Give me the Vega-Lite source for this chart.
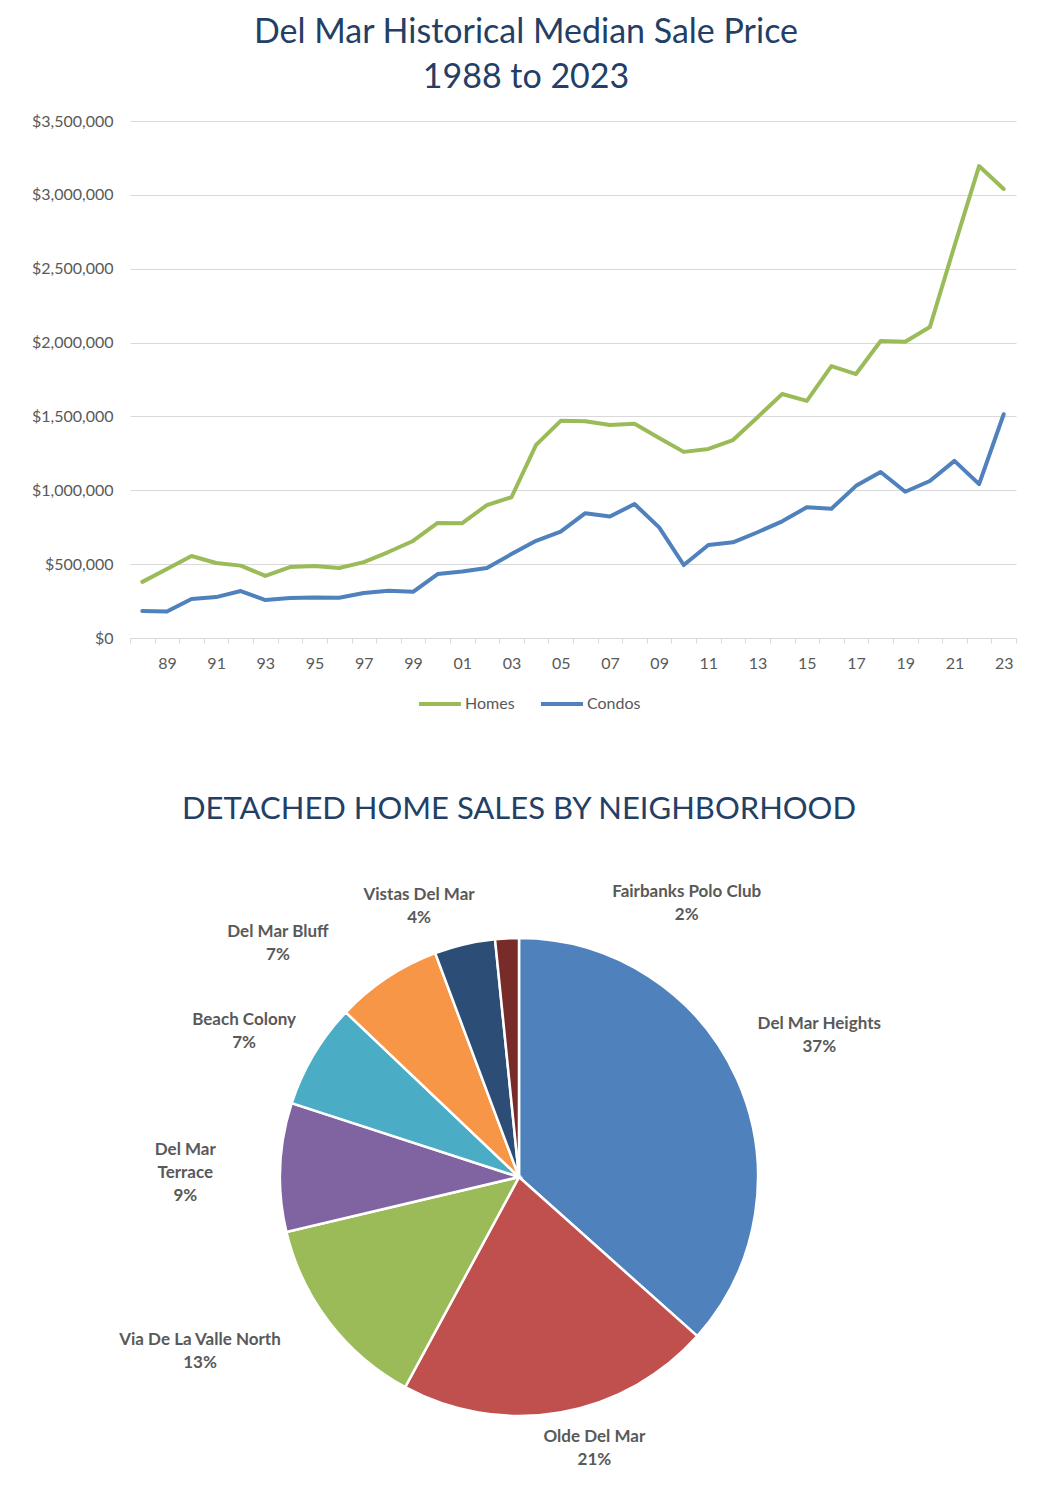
{
  "$schema": "https://vega.github.io/schema/vega-lite/v6.json",
  "background": "white",
  "padding": {"left": 31, "top": 16, "right": 10, "bottom": 5},
  "bounds": "flush",
  "spacing": 241,
  "resolve": {"scale": {"color": "independent"}, "legend": {"color": "independent"}},
  "config": {
    "font": "Lato",
    "view": {"stroke": null},
    "axis": {"labelFont": "Lato", "labelFontSize": 16, "labelColor": "#595959", "title": null},
    "legend": {"labelFont": "Lato"},
    "title": {"font": "Lato", "fontWeight": "normal", "color": "#243F66"},
    "text": {"font": "Lato", "fontWeight": "bold", "fontSize": 17, "lineBreak": "\n", "lineHeight": 23, "fill": "#595959"}
  },
  "vconcat": [
    {
      "width": 886,
      "height": 517,
      "title": {
        "text": ["Del Mar Historical Median Sale Price", "1988 to 2023"],
        "fontSize": 34,
        "lineHeight": 45,
        "anchor": "middle",
        "frame": "bounds",
        "dx": 2,
        "offset": 18
      },
      "data": {
        "values": [
          {"year": 1988, "type": "Homes", "price": 380000},
          {"year": 1989, "type": "Homes", "price": 467000},
          {"year": 1990, "type": "Homes", "price": 555000},
          {"year": 1991, "type": "Homes", "price": 508000},
          {"year": 1992, "type": "Homes", "price": 490000},
          {"year": 1993, "type": "Homes", "price": 420000},
          {"year": 1994, "type": "Homes", "price": 480000},
          {"year": 1995, "type": "Homes", "price": 487000},
          {"year": 1996, "type": "Homes", "price": 474000},
          {"year": 1997, "type": "Homes", "price": 514000},
          {"year": 1998, "type": "Homes", "price": 582000},
          {"year": 1999, "type": "Homes", "price": 657000},
          {"year": 2000, "type": "Homes", "price": 779000},
          {"year": 2001, "type": "Homes", "price": 777000},
          {"year": 2002, "type": "Homes", "price": 900000},
          {"year": 2003, "type": "Homes", "price": 953000},
          {"year": 2004, "type": "Homes", "price": 1307000},
          {"year": 2005, "type": "Homes", "price": 1470000},
          {"year": 2006, "type": "Homes", "price": 1468000},
          {"year": 2007, "type": "Homes", "price": 1442000},
          {"year": 2008, "type": "Homes", "price": 1450000},
          {"year": 2009, "type": "Homes", "price": 1354000},
          {"year": 2010, "type": "Homes", "price": 1260000},
          {"year": 2011, "type": "Homes", "price": 1280000},
          {"year": 2012, "type": "Homes", "price": 1340000},
          {"year": 2013, "type": "Homes", "price": 1495000},
          {"year": 2014, "type": "Homes", "price": 1652000},
          {"year": 2015, "type": "Homes", "price": 1605000},
          {"year": 2016, "type": "Homes", "price": 1841000},
          {"year": 2017, "type": "Homes", "price": 1787000},
          {"year": 2018, "type": "Homes", "price": 2011000},
          {"year": 2019, "type": "Homes", "price": 2005000},
          {"year": 2020, "type": "Homes", "price": 2105000},
          {"year": 2021, "type": "Homes", "price": 2655000},
          {"year": 2022, "type": "Homes", "price": 3195000},
          {"year": 2023, "type": "Homes", "price": 3040000},
          {"year": 1988, "type": "Condos", "price": 183000},
          {"year": 1989, "type": "Condos", "price": 180000},
          {"year": 1990, "type": "Condos", "price": 264000},
          {"year": 1991, "type": "Condos", "price": 277000},
          {"year": 1992, "type": "Condos", "price": 318000},
          {"year": 1993, "type": "Condos", "price": 257000},
          {"year": 1994, "type": "Condos", "price": 270000},
          {"year": 1995, "type": "Condos", "price": 275000},
          {"year": 1996, "type": "Condos", "price": 273000},
          {"year": 1997, "type": "Condos", "price": 305000},
          {"year": 1998, "type": "Condos", "price": 320000},
          {"year": 1999, "type": "Condos", "price": 313000},
          {"year": 2000, "type": "Condos", "price": 433000},
          {"year": 2001, "type": "Condos", "price": 450000},
          {"year": 2002, "type": "Condos", "price": 474000},
          {"year": 2003, "type": "Condos", "price": 568000},
          {"year": 2004, "type": "Condos", "price": 658000},
          {"year": 2005, "type": "Condos", "price": 720000},
          {"year": 2006, "type": "Condos", "price": 845000},
          {"year": 2007, "type": "Condos", "price": 822000},
          {"year": 2008, "type": "Condos", "price": 907000},
          {"year": 2009, "type": "Condos", "price": 749000},
          {"year": 2010, "type": "Condos", "price": 494000},
          {"year": 2011, "type": "Condos", "price": 630000},
          {"year": 2012, "type": "Condos", "price": 648000},
          {"year": 2013, "type": "Condos", "price": 716000},
          {"year": 2014, "type": "Condos", "price": 790000},
          {"year": 2015, "type": "Condos", "price": 885000},
          {"year": 2016, "type": "Condos", "price": 875000},
          {"year": 2017, "type": "Condos", "price": 1030000},
          {"year": 2018, "type": "Condos", "price": 1124000},
          {"year": 2019, "type": "Condos", "price": 990000},
          {"year": 2020, "type": "Condos", "price": 1063000},
          {"year": 2021, "type": "Condos", "price": 1199000},
          {"year": 2022, "type": "Condos", "price": 1042000},
          {"year": 2023, "type": "Condos", "price": 1515000}
        ]
      },
      "mark": {"type": "line", "strokeWidth": 4, "strokeCap": "round", "strokeJoin": "round"},
      "encoding": {
        "x": {
          "field": "year",
          "type": "ordinal",
          "scale": {"type": "band", "paddingInner": 0, "paddingOuter": 0},
          "bandPosition": 0.5,
          "axis": {
            "labelAngle": 0,
            "tickBand": "extent",
            "domainColor": "#D9D9D9",
            "tickColor": "#D9D9D9",
            "tickSize": 5,
            "labelPadding": 12,
            "grid": false,
            "labelExpr": "datum.value % 2 == 1 ? substring(toString(datum.value), 2, 4) : ''"
          }
        },
        "y": {
          "field": "price",
          "type": "quantitative",
          "scale": {"domain": [0, 3500000], "nice": false},
          "axis": {
            "values": [0, 500000, 1000000, 1500000, 2000000, 2500000, 3000000, 3500000],
            "format": "$,.0f",
            "domain": false,
            "ticks": false,
            "gridColor": "#D9D9D9",
            "labelPadding": 17
          }
        },
        "color": {
          "field": "type",
          "type": "nominal",
          "scale": {"domain": ["Homes", "Condos"], "range": ["#9BBB59", "#4F81BD"]},
          "legend": {
            "title": null,
            "orient": "none",
            "legendX": 287,
            "legendY": 560,
            "direction": "horizontal",
            "symbolType": "stroke",
            "symbolStrokeWidth": 4,
            "symbolSize": 1764,
            "labelFontSize": 16,
            "labelColor": "#595959",
            "columnPadding": 18,
            "labelOffset": 2
          }
        }
      }
    },
    {
      "width": 778,
      "height": 596,
      "title": {
        "text": "DETACHED HOME SALES BY NEIGHBORHOOD",
        "fontSize": 31,
        "anchor": "middle",
        "offset": 53
      },
      "data": {
        "values": [
          {"rank": 1, "name": "Del Mar Heights", "lbl": "Del Mar Heights", "share": 36.6},
          {"rank": 2, "name": "Olde Del Mar", "lbl": "Olde Del Mar", "share": 21.3},
          {"rank": 3, "name": "Via De La Valle North", "lbl": "Via De La Valle North", "share": 13.4},
          {"rank": 4, "name": "Del Mar Terrace", "lbl": "Del Mar\nTerrace", "share": 8.7},
          {"rank": 5, "name": "Beach Colony", "lbl": "Beach Colony", "share": 7.1},
          {"rank": 6, "name": "Del Mar Bluff", "lbl": "Del Mar Bluff", "share": 7.2},
          {"rank": 7, "name": "Vistas Del Mar", "lbl": "Vistas Del Mar", "share": 4.1},
          {"rank": 8, "name": "Fairbanks Polo Club", "lbl": "Fairbanks Polo Club", "share": 1.6}
        ]
      },
      "transform": [
        {"calculate": "datum.lbl + '\\n' + format(datum.share, '.0f') + '%'", "as": "label"},
        {"stack": "share", "groupby": [], "sort": [{"field": "rank", "order": "ascending"}], "as": ["s0", "s1"]},
        {"calculate": "(datum.s0 + datum.s1) / 2", "as": "mid"}
      ],
      "layer": [
        {
          "mark": {"type": "arc", "outerRadius": 239, "stroke": "white", "strokeWidth": 2.5},
          "encoding": {
            "theta": {"field": "s0", "type": "quantitative", "scale": {"domain": [0, 100]}},
            "theta2": {"field": "s1"},
            "color": {
              "field": "name",
              "type": "nominal",
              "scale": {
                "domain": ["Del Mar Heights", "Olde Del Mar", "Via De La Valle North", "Del Mar Terrace", "Beach Colony", "Del Mar Bluff", "Vistas Del Mar", "Fairbanks Polo Club"],
                "range": ["#4F81BD", "#C0504D", "#9BBB59", "#8064A2", "#4BACC6", "#F79646", "#2C4D75", "#772C2A"]
              },
              "legend": null
            }
          }
        },
        {
          "transform": [{"filter": "datum.name == 'Del Mar Heights'"}],
          "mark": {"type": "text", "radius": 329, "dy": -19},
          "encoding": {"theta": {"field": "mid", "type": "quantitative", "scale": {"domain": [0, 100]}}, "text": {"field": "label"}}
        },
        {
          "transform": [{"filter": "datum.name == 'Olde Del Mar'"}],
          "mark": {"type": "text", "radius": 264, "dx": 30},
          "encoding": {"theta": {"field": "mid", "type": "quantitative", "scale": {"domain": [0, 100]}}, "text": {"field": "label"}}
        },
        {
          "transform": [{"filter": "datum.name == 'Via De La Valle North'"}],
          "mark": {"type": "text", "radius": 330, "dx": -57, "dy": -38},
          "encoding": {"theta": {"field": "mid", "type": "quantitative", "scale": {"domain": [0, 100]}}, "text": {"field": "label"}}
        },
        {
          "transform": [{"filter": "datum.name == 'Del Mar Terrace'"}],
          "mark": {"type": "text", "radius": 334, "dy": -13},
          "encoding": {"theta": {"field": "mid", "type": "quantitative", "scale": {"domain": [0, 100]}}, "text": {"field": "label"}}
        },
        {
          "transform": [{"filter": "datum.name == 'Beach Colony'"}],
          "mark": {"type": "text", "radius": 320, "dy": 7},
          "encoding": {"theta": {"field": "mid", "type": "quantitative", "scale": {"domain": [0, 100]}}, "text": {"field": "label"}}
        },
        {
          "transform": [{"filter": "datum.name == 'Del Mar Bluff'"}],
          "mark": {"type": "text", "radius": 330, "dx": -59, "dy": 30},
          "encoding": {"theta": {"field": "mid", "type": "quantitative", "scale": {"domain": [0, 100]}}, "text": {"field": "label"}}
        },
        {
          "transform": [{"filter": "datum.name == 'Vistas Del Mar'"}],
          "mark": {"type": "text", "radius": 290, "dx": -34},
          "encoding": {"theta": {"field": "mid", "type": "quantitative", "scale": {"domain": [0, 100]}}, "text": {"field": "label"}}
        },
        {
          "transform": [{"filter": "datum.name == 'Fairbanks Polo Club'"}],
          "mark": {"type": "text", "radius": 285, "dx": 182},
          "encoding": {"theta": {"field": "mid", "type": "quantitative", "scale": {"domain": [0, 100]}}, "text": {"field": "label"}}
        }
      ]
    }
  ]
}
